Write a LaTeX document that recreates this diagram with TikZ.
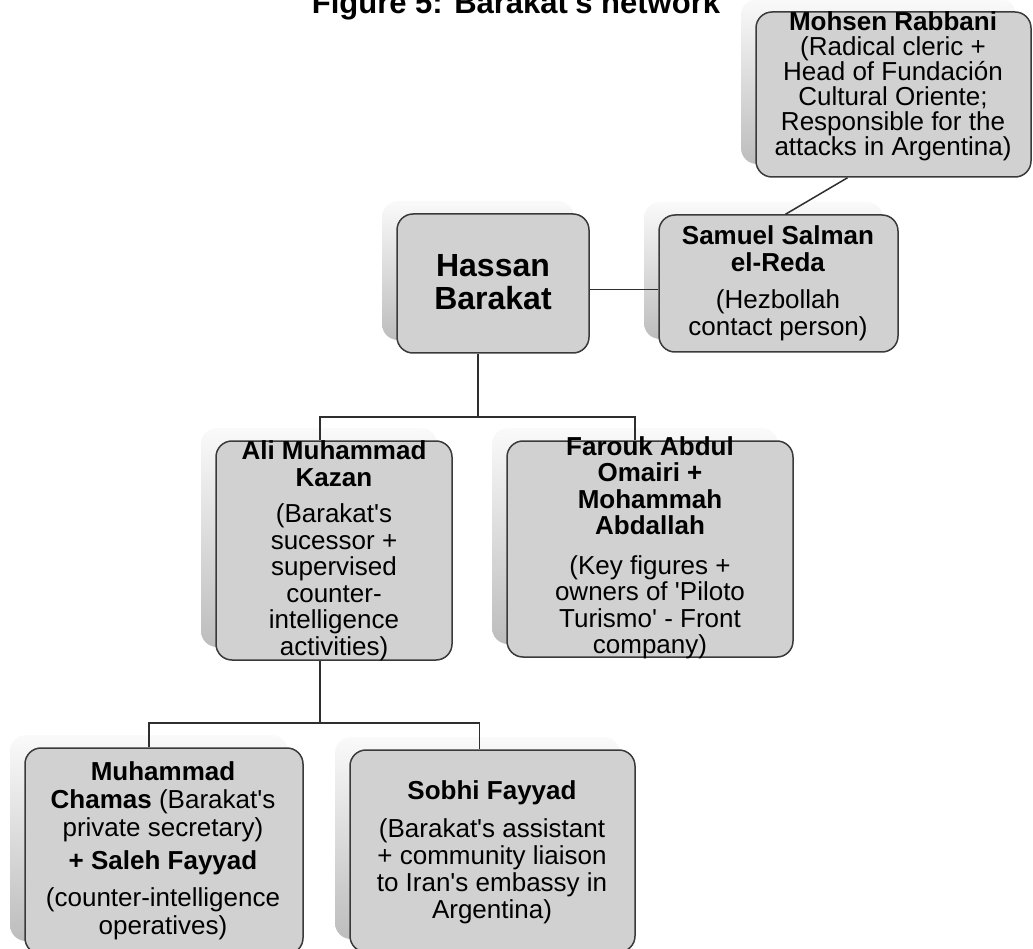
\documentclass[tikz,border=0pt]{standalone}
\usepackage{fontspec}
\setmainfont{Liberation Sans}
\usetikzlibrary{calc}
\definecolor{boxfill}{HTML}{D1D1D1}
\definecolor{edgecol}{HTML}{3A3A3A}
\definecolor{wire}{HTML}{2E2E2E}
\newcommand\apos{\textquotesingle}
\tikzset{
  box/.style={draw=edgecol, line width=1.5pt, fill=boxfill, rounded corners=16pt, inner sep=0pt},
  glow/.style={rounded corners=16pt, top color=black!2, bottom color=black!26, inner sep=0pt, draw=none},
  txt/.style={align=center, inner sep=0pt, font=\fontsize{26}{27}\selectfont},
  conn/.style={draw=wire, line width=1.5pt},
}
\begin{document}
\begin{tikzpicture}[x=1pt,y=-1pt]
\useasboundingbox (0,0) rectangle (1033,949);
\clip (0,0) rectangle (1033,949);

% title (top cut off as in the reference)
\node[anchor=base, inner sep=0pt, font=\bfseries\fontsize{31}{33}\selectfont] (title) at (516,14) {Figure 5: Barakat\apos s network};

% glows (halos behind boxes)
\node[glow, minimum width=275pt, minimum height=165pt] (mohsenG) at (878.5,81.5) {};
\node[glow, minimum width=192pt, minimum height=139pt] (hassanG) at (478,270.5) {};
\node[glow, minimum width=239pt, minimum height=137pt] (samuelG) at (763.5,270.5) {};
\node[glow, minimum width=236pt, minimum height=219pt] (aliG) at (319,537.5) {};
\node[glow, minimum width=286pt, minimum height=216pt] (faroukG) at (635,536) {};
\node[glow, minimum width=278pt, minimum height=206pt] (muhG) at (149,838) {};
\node[glow, minimum width=285pt, minimum height=202pt] (sobhiG) at (477.5,838) {};

% bus levels
\coordinate (busA) at (0,417);
\coordinate (busB) at (0,723);

% boxes
\node[box, minimum width=275pt, minimum height=165pt] (mohsen) at (893.5,94.5) {};
\node[box, minimum width=192pt, minimum height=139pt] (hassan) at (493,283.5) {};
\node[box, minimum width=239pt, minimum height=137pt] (samuel) at (778.5,283.5) {};
\node[box, minimum width=236pt, minimum height=219pt] (ali) at (334,550.5) {};
\node[box, minimum width=286pt, minimum height=216pt] (farouk) at (650,549) {};
\node[box, minimum width=278pt, minimum height=206pt] (muh) at (164,851) {};
\node[box, minimum width=285pt, minimum height=202pt] (sobhi) at (492.5,851) {};

% connectors
\draw[conn] ([xshift=-15pt]hassan.south) -- ([xshift=-15pt]hassan.south |- busA);
\draw[conn] ([xshift=-14pt]ali.north) |- ([xshift=-15pt]farouk.north |- busA) -- ([xshift=-15pt]farouk.north);
\draw[conn] ([yshift=-6pt]hassan.east) -- ([yshift=-6pt]samuel.west);
\draw[conn] ([xshift=7pt]samuel.north) -- ([xshift=-46pt]mohsen.south);
\draw[conn] ([xshift=-14pt]ali.south) -- ([xshift=-14pt]ali.south |- busB);
\draw[conn] ([xshift=-15pt]muh.north) |- ([xshift=-13pt]sobhi.north |- busB) -- ([xshift=-13pt]sobhi.north);

% texts
\node[txt, font=\fontsize{26}{25}\selectfont] (mohsenT) at (893,86)
  {\textbf{Mohsen Rabbani}\\(Radical cleric +\\Head of Fundación\\Cultural Oriente;\\Responsible for the\\attacks in Argentina)};
\node[txt, font=\bfseries\fontsize{32}{33}\selectfont] (hassanT) at (493,282) {Hassan\\Barakat};
\node[txt] (samuelT) at (778,283)
  {\textbf{Samuel Salman}\\\textbf{el-Reda}\\[10pt](Hezbollah\\contact person)};
\node[txt, font=\fontsize{26}{26.5}\selectfont] (aliT) at (334,551)
  {\textbf{Ali Muhammad}\\\textbf{Kazan}\\[10pt](Barakat\apos s\\sucessor +\\supervised\\counter-\\intelligence\\activities)};
\node[txt, font=\fontsize{26}{26.5}\selectfont] (faroukT) at (650,548)
  {\textbf{Farouk Abdul}\\\textbf{Omairi +}\\\textbf{Mohammah}\\\textbf{Abdallah}\\[13pt](Key figures +\\owners of \apos Piloto\\Turismo\apos\ - Front\\company)};
\node[txt, font=\fontsize{26}{28}\selectfont] (muhT) at (163,851)
  {\textbf{Muhammad}\\\textbf{Chamas} (Barakat\apos s\\private secretary)\\[5pt]\textbf{+ Saleh Fayyad}\\[9pt](counter-intelligence\\operatives)};
\node[txt] (sobhiT) at (492,852)
  {\textbf{Sobhi Fayyad}\\[11pt](Barakat\apos s assistant\\+ community liaison\\to Iran\apos s embassy in\\Argentina)};
\end{tikzpicture}
\end{document}
